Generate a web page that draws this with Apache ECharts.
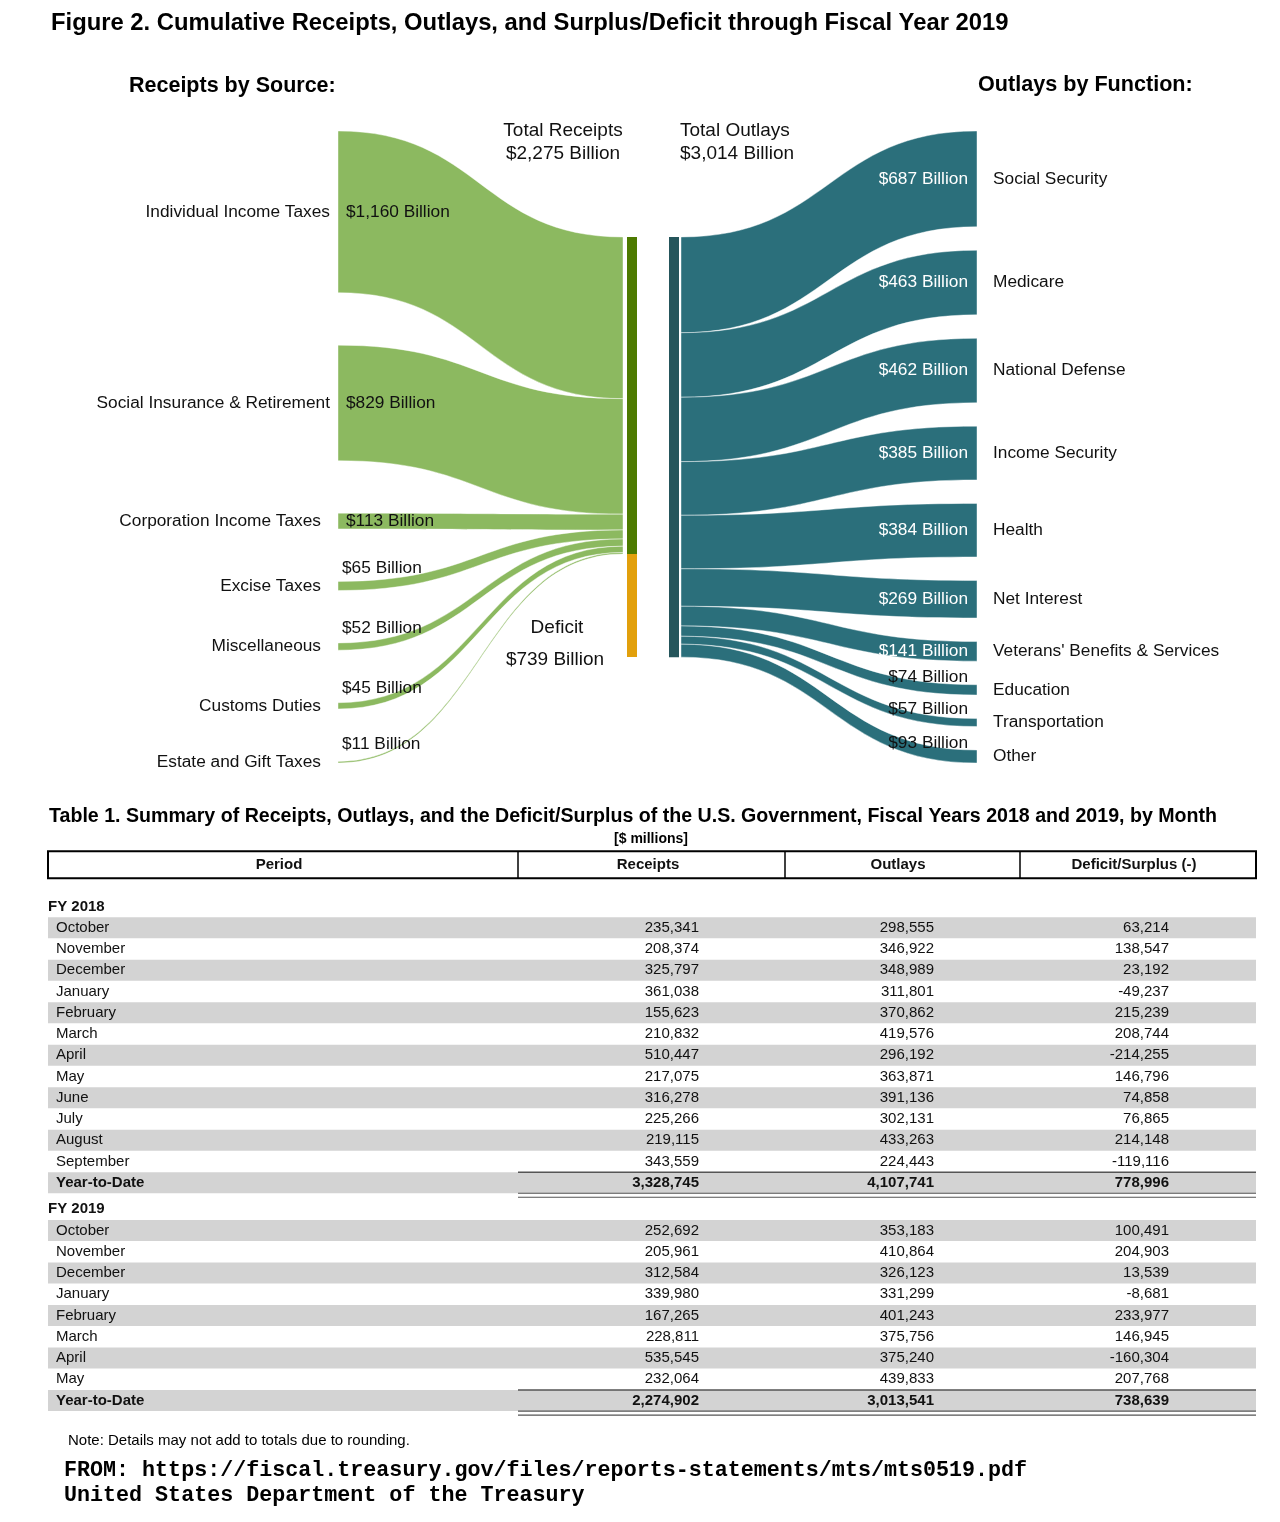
<!DOCTYPE html>
<html><head><meta charset="utf-8">
<script src="https://cdn.jsdelivr.net/npm/echarts@6/dist/echarts.min.js"></script>
<style>html,body{margin:0;padding:0;background:#fff}#main{width:1280px;height:1522px}</style>
</head><body><div id="main"></div>
<script>
// ---------------- DATA ----------------
const receiptSources = ['Individual Income Taxes', 'Social Insurance & Retirement', 'Corporation Income Taxes', 'Excise Taxes', 'Miscellaneous', 'Customs Duties', 'Estate and Gift Taxes'];
const receiptValues = [1160, 829, 113, 65, 52, 45, 11];
const outlayFunctions = ['Social Security', 'Medicare', 'National Defense', 'Income Security', 'Health', 'Net Interest', "Veterans' Benefits & Services", 'Education', 'Transportation', 'Other'];
const outlayValues = [687, 463, 462, 385, 384, 269, 141, 74, 57, 93];
const totalReceipts = 2275;
const totalOutlays = 3014;
const deficitValue = 739;

const tableColumns = ['Period', 'Receipts', 'Outlays', 'Deficit/Surplus (-)'];
const fy2018Months = ['October', 'November', 'December', 'January', 'February', 'March', 'April', 'May', 'June', 'July', 'August', 'September'];
const fy2018Receipts = [235341, 208374, 325797, 361038, 155623, 210832, 510447, 217075, 316278, 225266, 219115, 343559];
const fy2018Outlays = [298555, 346922, 348989, 311801, 370862, 419576, 296192, 363871, 391136, 302131, 433263, 224443];
const fy2018Deficit = [63214, 138547, 23192, -49237, 215239, 208744, -214255, 146796, 74858, 76865, 214148, -119116];
const fy2018YTD = [3328745, 4107741, 778996];
const fy2019Months = ['October', 'November', 'December', 'January', 'February', 'March', 'April', 'May'];
const fy2019Receipts = [252692, 205961, 312584, 339980, 167265, 228811, 535545, 232064];
const fy2019Outlays = [353183, 410864, 326123, 331299, 401243, 375756, 375240, 439833];
const fy2019Deficit = [100491, 204903, 13539, -8681, 233977, 146945, -160304, 207768];
const fy2019YTD = [2274902, 3013541, 738639];

// ---------------- LAYOUT / STYLE ----------------
const FONT = '"Liberation Sans", Arial, Helvetica, sans-serif';
const MONO = '"Liberation Mono", "Courier New", monospace';
const COL = { recFlow: '#8cb960', recBar: '#4d7a00', deficit: '#e2a00c', outFlow: '#2b6f7b', outBar: '#25555b', grey: '#d3d3d3', text: '#111' };
const LAY = {
  R: 4535, leftX0: 338, leftX1: 623, recBarX: 627, barW: 10, outBarX: 669, rightX0: 681, rightX1: 977,
  leftLabelXBig: 330, leftLabelXSmall: 321, bigValue: 800, leftValX: 346, leftSmallValX: 342, rightValX: 968, rightLabelX: 993,
  smallValue: 100, recTotalX: 563, outTotalX: 680, deficitX: 557, labelSize: 17.3, totalSize: 19
};
const TL = { left: 48, right: 1256, dividers: [518, 785, 1020], headCenters: [279, 648, 898, 1134], numRight: [699, 934, 1169], labelX: 56, rowH: 21, headH: 27 };

const fmt = v => v.toLocaleString('en-US');
const sum = a => a.reduce((s, v) => s + v, 0);

// ---------------- SANKEY GEOMETRY (value units) ----------------
const sumRec = sum(receiptValues), sumOut = sum(outlayValues);
const gapL = (LAY.R - sumRec) / (receiptValues.length - 1);
const gapR = (LAY.R - sumOut) / (outlayValues.length - 1);
const midTop = (LAY.R - (totalReceipts + deficitValue)) / 2;
const sankeyItems = [];
let accL = 0, accS = midTop;
receiptValues.forEach((v, i) => {
  const top = accL + i * gapL;
  sankeyItems.push({ kind: 'src', name: receiptSources[i], value: v, top, bottom: top + v, slotTop: accS, slotBottom: accS + v });
  accL += v; accS += v;
});
let accR = 0, accO = midTop;
outlayValues.forEach((v, i) => {
  const top = accR + i * gapR;
  sankeyItems.push({ kind: 'fn', name: outlayFunctions[i], value: v, top, bottom: top + v, slotTop: accO, slotBottom: accO + v });
  accR += v; accO += v;
});
sankeyItems.push({ kind: 'recBar', top: midTop, bottom: midTop + totalReceipts });
sankeyItems.push({ kind: 'defBar', top: midTop + totalReceipts, bottom: midTop + totalReceipts + deficitValue });
sankeyItems.push({ kind: 'outBar', top: midTop, bottom: midTop + sumOut });

function txt(text, x, y, size, o) {
  o = o || {};
  return { type: 'text', silent: true, z2: 100, style: { text, x, y, fontSize: size, fontFamily: o.family || FONT, fontWeight: o.bold ? 'bold' : 'normal', fill: o.fill || COL.text, align: o.align || 'left', verticalAlign: 'middle' } };
}
function band(x0, y0t, y0b, x1, y1t, y1b) {
  const xm = (x0 + x1) / 2;
  return `M${x0},${y0t}C${xm},${y0t} ${xm},${y1t} ${x1},${y1t}L${x1},${y1b}C${xm},${y1b} ${xm},${y0b} ${x0},${y0b}Z`;
}

function renderSankey(params, api) {
  const it = sankeyItems[params.dataIndex];
  const P = (x, v) => api.coord([x, v]);
  const ch = [];
  const S = LAY.labelSize;
  if (it.kind === 'src' || it.kind === 'fn') {
    const isSrc = it.kind === 'src';
    const nodeX = isSrc ? LAY.leftX0 : LAY.rightX1;
    const slotX = isSrc ? LAY.leftX1 : LAY.rightX0;
    const a = P(nodeX, it.top), b = P(nodeX, it.bottom), c = P(slotX, it.slotTop), d = P(slotX, it.slotBottom);
    const path = isSrc ? band(a[0], a[1], b[1], c[0], c[1], d[1]) : band(c[0], c[1], d[1], a[0], a[1], b[1]);
    ch.push({ type: 'path', shape: { pathData: path }, style: { fill: isSrc ? COL.recFlow : COL.outFlow, stroke: 'rgba(255,255,255,0.85)', lineWidth: 0.5 } });
    const cy = (a[1] + b[1]) / 2;
    const small = it.value < LAY.smallValue;
    const valText = '$' + fmt(it.value) + ' Billion';
    if (isSrc) {
      const lx = it.value >= LAY.bigValue ? LAY.leftLabelXBig : LAY.leftLabelXSmall;
      ch.push(txt(it.name, P(lx, 0)[0], cy, S, { align: 'right' }));
      ch.push(txt(valText, P(small ? LAY.leftSmallValX : LAY.leftValX, 0)[0], small ? cy - 18 : cy, S));
    } else {
      ch.push(txt(it.name, P(LAY.rightLabelX, 0)[0], cy, S));
      ch.push(txt(valText, P(LAY.rightValX, 0)[0], small ? cy - 13 : cy, S, { align: 'right', fill: small ? COL.text : '#fff' }));
    }
  } else if (it.kind === 'recBar' || it.kind === 'defBar' || it.kind === 'outBar') {
    const x = it.kind === 'outBar' ? LAY.outBarX : LAY.recBarX;
    const a = P(x, it.top), b = P(x + LAY.barW, it.bottom);
    const fill = it.kind === 'recBar' ? COL.recBar : it.kind === 'defBar' ? COL.deficit : COL.outBar;
    ch.push({ type: 'rect', shape: { x: a[0], y: a[1], width: b[0] - a[0], height: b[1] - a[1] }, style: { fill } });
    const y0 = P(0, 0)[1];
    const T = LAY.totalSize;
    if (it.kind === 'recBar') {
      ch.push(txt('Total Receipts', P(LAY.recTotalX, 0)[0], y0, T, { align: 'center' }));
      ch.push(txt('$' + fmt(totalReceipts) + ' Billion', P(LAY.recTotalX, 0)[0], y0 + 23, T, { align: 'center' }));
    } else if (it.kind === 'outBar') {
      ch.push(txt('Total Outlays', P(LAY.outTotalX, 0)[0], y0, T));
      ch.push(txt('$' + fmt(totalOutlays) + ' Billion', P(LAY.outTotalX, 0)[0], y0 + 23, T));
    } else {
      ch.push(txt('Deficit', P(LAY.deficitX, 0)[0], b[1] - 29, T, { align: 'center' }));
      ch.push(txt('$' + fmt(deficitValue) + ' Billion', P(LAY.deficitX - 2, 0)[0], b[1] + 3, T, { align: 'center' }));
    }
  }
  return { type: 'group', children: ch };
}

// ---------------- TABLE ROWS ----------------
const tableRows = [{ type: 'header', pos: -1.97 }];
function addYear(label, startPos, months, rec, out, def, ytd) {
  tableRows.push({ type: 'fy', label, pos: startPos });
  months.forEach((m, i) => tableRows.push({ type: 'm', label: m, vals: [rec[i], out[i], def[i]], grey: i % 2 === 0, pos: startPos + 1 + i }));
  tableRows.push({ type: 'ytd', label: 'Year-to-Date', vals: ytd, grey: true, pos: startPos + 1 + months.length });
}
addYear('FY 2018', 0, fy2018Months, fy2018Receipts, fy2018Outlays, fy2018Deficit, fy2018YTD);
addYear('FY 2019', 14.25, fy2019Months, fy2019Receipts, fy2019Outlays, fy2019Deficit, fy2019YTD);

function renderTable(params, api) {
  const r = tableRows[params.dataIndex];
  const y = api.coord([0, r.pos])[1];
  const X = x => api.coord([x, r.pos])[0];
  const ch = [];
  if (r.type === 'header') {
    const top = y - TL.headH / 2;
    ch.push({ type: 'rect', shape: { x: X(TL.left), y: top, width: X(TL.right) - X(TL.left), height: TL.headH }, style: { fill: 'none', stroke: '#000', lineWidth: 2 } });
    TL.dividers.forEach(dx => ch.push({ type: 'line', shape: { x1: X(dx), y1: top, x2: X(dx), y2: top + TL.headH }, style: { stroke: '#000', lineWidth: 1.5 } }));
    tableColumns.forEach((n, k) => ch.push(txt(n, X(TL.headCenters[k]), y, 15, { bold: true, align: 'center' })));
  } else if (r.type === 'fy') {
    ch.push(txt(r.label, X(TL.left), y, 15, { bold: true }));
  } else {
    const h = TL.rowH, top = y - h / 2;
    if (r.grey) ch.push({ type: 'rect', shape: { x: X(TL.left), y: top, width: X(TL.right) - X(TL.left), height: h }, style: { fill: COL.grey } });
    const bold = r.type === 'ytd';
    ch.push(txt(r.label, X(TL.labelX), y, 15, { bold }));
    r.vals.forEach((v, k) => ch.push(txt(fmt(v), X(TL.numRight[k]), y, 15, { bold, align: 'right' })));
    if (bold) {
      const x1 = X(TL.dividers[0]), x2 = X(TL.right);
      ch.push({ type: 'line', shape: { x1, y1: top, x2, y2: top }, style: { stroke: '#555', lineWidth: 1.5 } });
      ch.push({ type: 'line', shape: { x1, y1: top + h, x2, y2: top + h }, style: { stroke: '#555', lineWidth: 1.2 } });
      ch.push({ type: 'line', shape: { x1, y1: top + h + 4, x2, y2: top + h + 4 }, style: { stroke: '#555', lineWidth: 1.2 } });
    }
  }
  return { type: 'group', children: ch };
}

// ---------------- CHART ----------------
function ttl(text, left, cy, size, o) {
  o = o || {};
  const lh = Math.round(size * 1.2);
  return { text, left, top: cy - lh / 2, padding: 0, textAlign: o.align || 'left',
    textStyle: { fontSize: size, fontWeight: o.bold === false ? 'normal' : 'bold', fontFamily: o.family || FONT, color: '#000', lineHeight: lh } };
}
const chart = echarts.init(document.getElementById('main'), null, { renderer: 'canvas' });
chart.setOption({
  animation: false,
  backgroundColor: '#fff',
  title: [
    ttl('Figure 2. Cumulative Receipts, Outlays, and Surplus/Deficit through Fiscal Year 2019', 51, 23, 23.8),
    ttl('Receipts by Source:', 129, 86, 21.5),
    ttl('Outlays by Function:', 978, 85, 21.6),
    ttl('Table 1. Summary of Receipts, Outlays, and the Deficit/Surplus of the U.S. Government, Fiscal Years 2018 and 2019, by Month', 49, 817, 19.6),
    ttl('[$ millions]', 651, 839, 14, { align: 'center' }),
    ttl('Note: Details may not add to totals due to rounding.', 68, 1441, 15, { bold: false }),
    ttl('FROM: https://fiscal.treasury.gov/files/reports-statements/mts/mts0519.pdf', 64, 1471, 21.7, { family: MONO }),
    ttl('United States Department of the Treasury', 64, 1496, 21.7, { family: MONO })
  ],
  grid: [
    { left: 0, top: 131, width: 1280, height: 632 },
    { left: 0, top: 864, width: 1280, height: 25.25 * 21.25 }
  ],
  xAxis: [
    { type: 'value', gridIndex: 0, min: 0, max: 1280, show: false },
    { type: 'value', gridIndex: 1, min: 0, max: 1280, show: false }
  ],
  yAxis: [
    { type: 'value', gridIndex: 0, min: 0, max: LAY.R, inverse: true, show: false },
    { type: 'value', gridIndex: 1, min: -2, max: 23.25, inverse: true, show: false }
  ],
  series: [
    { type: 'custom', name: 'sankey', xAxisIndex: 0, yAxisIndex: 0, clip: false, silent: true,
      renderItem: renderSankey, data: sankeyItems.map((it, i) => [i, 0]) },
    { type: 'custom', name: 'table', xAxisIndex: 1, yAxisIndex: 1, clip: false, silent: true,
      renderItem: renderTable, data: tableRows.map((r, i) => [i, 0]) }
  ]
});
</script></body></html>
